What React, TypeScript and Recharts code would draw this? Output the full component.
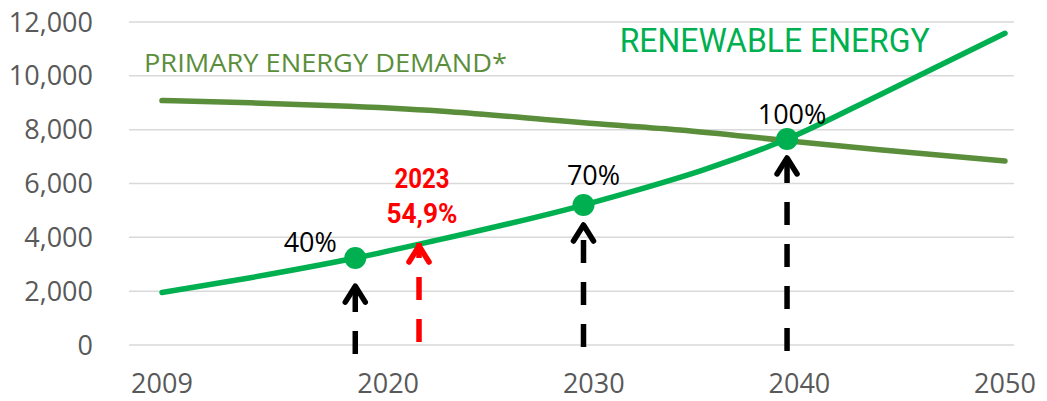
import { LineChart, Line, XAxis, YAxis, CartesianGrid, ReferenceLine, ReferenceDot } from 'recharts'

// axis ticks
const xTicks = [2009, 2020, 2030, 2040, 2050]
const yTicks = [0, 2000, 4000, 6000, 8000, 10000, 12000]

// renewable energy curve
const renewableYears = [2009, 2013.3, 2018.4, 2022.0, 2029.5, 2031.8, 2035.3, 2039.4, 2043.9, 2050]
const renewableValues = [1950, 2500, 3230, 3830, 5200, 5690, 6500, 7650, 9290, 11580]

// primary energy demand curve
const demandYears = [2009, 2013.3, 2018.1, 2023.0, 2027.9, 2029.8, 2034.2, 2039.4, 2043.9, 2050]
const demandValues = [9080, 9000, 8870, 8670, 8360, 8240, 7990, 7590, 7250, 6840]

// milestones: dot on the renewable curve, share label, dashed arrow below
const milestoneYears = [2018.4, 2029.5, 2039.4]
const milestoneValues = [3230, 5200, 7650]
const milestoneLabels = ['40%', '70%', '100%']
const arrowBases = [-330, -75, -220]
const arrowTips = [2300, 4570, 7060]

// current status (red arrow)
const currentYear = 2021.5
const currentBase = 110
const currentTip = 3790
const currentLabels = ['2023', '54,9%']

const renewableData = renewableYears.map((year, i) => ({ year, value: renewableValues[i] }))
const demandData = demandYears.map((year, i) => ({ year, value: demandValues[i] }))

const GREEN = '#00B050'
const OLIVE = '#5A8E3A'
const RED = '#FF0000'
const GREY = '#595959'
const BODY_FONT = "'Open Sans', sans-serif"
const DIN_FONT = "Roboto, sans-serif"

// label offsets relative to the milestone dot
const labelDx = [-45, 10, 5]
const labelDy = [-6, -20, -15]

function chevron(color: string) {
  return (p: any) => (
    <path
      d={`M${p.cx - 10},${p.cy + 19} L${p.cx},${p.cy + 3} L${p.cx + 10},${p.cy + 19}`}
      fill="none"
      stroke={color}
      strokeWidth={5.5}
      strokeLinecap="round"
      strokeLinejoin="round"
    />
  )
}

function milestoneDot(label: string, dx: number, dy: number) {
  return (p: any) => (
    <g>
      <circle cx={p.cx} cy={p.cy} r={11} fill={GREEN} />
      <text
        x={p.cx + dx}
        y={p.cy + dy}
        textAnchor="middle"
        fontFamily={BODY_FONT}
        fontSize={27}
        fill="#000"
      >
        {label}
      </text>
    </g>
  )
}

export default function App() {
  return (
    <div style={{ position: 'absolute', left: 0, top: 0, background: '#fff' }}>
      <LineChart
        width={1047}
        height={401}
        margin={{ top: 22, right: 33, bottom: 6, left: 0 }}
      >
        <CartesianGrid vertical={false} stroke="#D9D9D9" strokeWidth={1.5} />
        <XAxis
          dataKey="year"
          type="number"
          domain={[2009, 2050]}
          ticks={xTicks}
          interval={0}
          padding={{ left: 33, right: 9 }}
          axisLine={false}
          tickLine={false}
          tickSize={0}
          tickMargin={29}
          height={50}
          tick={{ fontSize: 27, fill: GREY, fontFamily: BODY_FONT }}
          allowDuplicatedCategory={false}
        />
        <YAxis
          type="number"
          domain={[0, 12000]}
          ticks={yTicks}
          interval={0}
          width={129}
          axisLine={false}
          tickLine={false}
          tickSize={0}
          tickMargin={36}
          tick={{ fontSize: 27, fill: GREY, fontFamily: BODY_FONT }}
          tickFormatter={(v: number) => v.toLocaleString('en-US')}
        />
        <Line
          data={demandData}
          dataKey="value"
          type="monotone"
          stroke={OLIVE}
          strokeWidth={5.5}
          strokeLinecap="round"
          dot={false}
          activeDot={false}
          isAnimationActive={false}
        />
        <Line
          data={renewableData}
          dataKey="value"
          type="monotone"
          stroke={GREEN}
          strokeWidth={5.5}
          strokeLinecap="round"
          dot={false}
          activeDot={false}
          isAnimationActive={false}
        />

        {milestoneYears.map((year, i) => (
          <ReferenceLine
            key={`stem-${i}`}
            segment={[{ x: year, y: arrowBases[i] }, { x: year, y: arrowTips[i] }]}
            stroke="#000"
            strokeWidth={5.5}
            strokeDasharray="23 19"
            ifOverflow="visible"
          />
        ))}
        {milestoneYears.map((year, i) => (
          <ReferenceDot
            key={`head-${i}`}
            x={year}
            y={arrowTips[i]}
            r={1}
            ifOverflow="visible"
            shape={chevron('#000')}
          />
        ))}

        <ReferenceLine
          segment={[{ x: currentYear, y: currentBase }, { x: currentYear, y: currentTip }]}
          stroke={RED}
          strokeWidth={5.5}
          strokeDasharray="23 19"
          ifOverflow="visible"
        />
        <ReferenceDot
          x={currentYear}
          y={currentTip}
          r={1}
          ifOverflow="visible"
          shape={(p: any) => (
            <g>
              {chevron(RED)(p)}
              <text x={p.cx + 3} y={p.cy - 55} textAnchor="middle" fontFamily={DIN_FONT} fontWeight={700} fontSize={28} fill={RED} textLength={55} lengthAdjust="spacingAndGlyphs">
                {currentLabels[0]}
              </text>
              <text x={p.cx + 3} y={p.cy - 20} textAnchor="middle" fontFamily={DIN_FONT} fontWeight={700} fontSize={28} fill={RED} textLength={71} lengthAdjust="spacingAndGlyphs">
                {currentLabels[1]}
              </text>
            </g>
          )}
        />

        {milestoneYears.map((year, i) => (
          <ReferenceDot
            key={`dot-${i}`}
            x={year}
            y={milestoneValues[i]}
            r={11}
            ifOverflow="visible"
            shape={milestoneDot(milestoneLabels[i], labelDx[i], labelDy[i])}
          />
        ))}

        {/* series titles */}
        <ReferenceDot
          x={2009}
          y={10150}
          r={1}
          ifOverflow="visible"
          shape={(p: any) => (
            <text x={p.cx - 18} y={p.cy} fontFamily={BODY_FONT} fontSize={26} fill={OLIVE} textLength={363} lengthAdjust="spacingAndGlyphs">
              PRIMARY ENERGY DEMAND*
            </text>
          )}
        />
        <ReferenceDot
          x={2038.8}
          y={10890}
          r={1}
          ifOverflow="visible"
          shape={(p: any) => (
            <text x={p.cx} y={p.cy} textAnchor="middle" fontFamily={DIN_FONT} fontSize={32.5} fill={GREEN} textLength={310} lengthAdjust="spacingAndGlyphs">
              RENEWABLE ENERGY
            </text>
          )}
        />
      </LineChart>
    </div>
  )
}
